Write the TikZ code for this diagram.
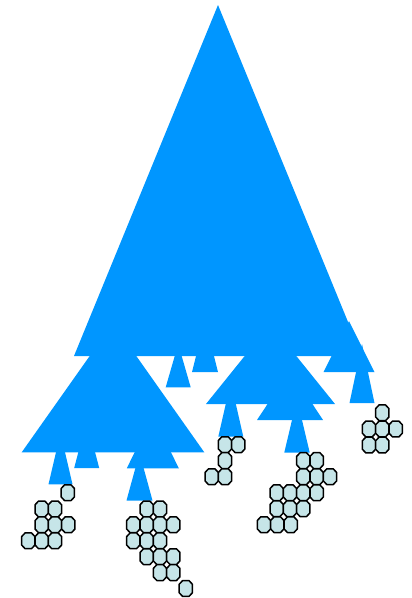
\documentclass[tikz,border=0pt]{standalone}
\usepackage{xcolor}
\definecolor{treeblue}{RGB}{0,150,255}
\definecolor{leafcyan}{RGB}{198,229,232}

\begin{document}
\begin{tikzpicture}[x=1pt,y=-1pt,
  crown/.style={fill=treeblue,draw=none},
  leaf/.style={draw=black,line width=1.5pt,fill=leafcyan,line join=round}]
  \useasboundingbox (0,0) rectangle (412,598);
  % Triangles (centre / apex / base / half width)
  \foreach \cx/\ay/\by/\hw in {218/5/356/144, 113/323/452.3/91.3, 178.2/344/387.3/12.5,
      205/320/372/13, 270.5/324/404/64.5, 349/321/372/25.5, 362/344/403/12.5,
      60.5/433/484.3/12, 86.7/420/468/12.5, 152.8/415/468.3/26, 139.5/453/500.5/13,
      230.8/382/436.7/12.5, 290/370/420/33, 297/399/452.5/12.7}
    \fill[crown] (\cx-\hw,\by) -- (\cx,\ay) -- (\cx+\hw,\by) -- cycle;
  % Leaves (centres)
  \foreach \x/\y in {67.8/492.7, 41.7/509, 55/509, 41.7/524.8, 55/524.8, 68.3/524.8,
      28.3/540.8, 41.7/540.8, 55/540.8,
      146.7/509, 160/509, 133.3/524.8, 146.7/524.8, 160/524.8, 173.3/524.8,
      133.3/540.8, 146.7/540.8, 160/540.8, 146.7/556.7, 160/556.7, 173.3/556.7,
      160/572.6, 173.3/572.6, 185.8/588.5,
      225/444.7, 238.3/444.7, 225/460.6, 211.7/476.7, 225/476.7,
      303.3/460.6, 316.7/460.6, 303.3/476.7, 316.7/476.7, 330/476.7,
      276.7/492.8, 290/492.8, 303.3/492.8, 316.7/492.8, 276.7/508.7, 290/508.7, 303.3/508.7,
      264/524.7, 277.3/524.7, 290.7/524.7,
      382.3/412.8, 369/429, 382.3/429, 395.7/429, 369/445, 382.3/445}
    \draw[leaf] (\x-6.65,\y-4.2) -- (\x-3.2,\y-7.9) -- (\x+3.2,\y-7.9) -- (\x+6.65,\y-4.2)
      -- (\x+6.65,\y+4.2) -- (\x+3.2,\y+7.9) -- (\x-3.2,\y+7.9) -- (\x-6.65,\y+4.2) -- cycle;
\end{tikzpicture}
\end{document}
